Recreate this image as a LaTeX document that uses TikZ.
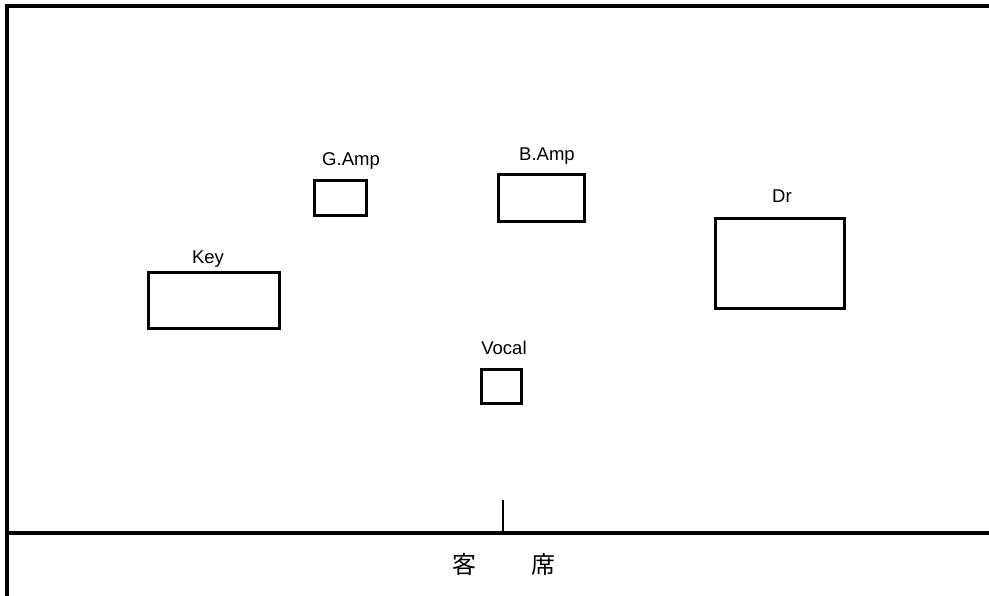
\documentclass[tikz,border=0pt]{standalone}
\usepackage{fontspec}
\setmainfont{Liberation Sans}
\newfontfamily\cjk{Noto Sans CJK JP}
\begin{document}
\begin{tikzpicture}[x=1pt,y=-1pt,
  box/.style={draw=black,line width=2.9pt,rectangle,inner sep=0pt,fill=none},
  lbl/.style={anchor=base,inner sep=0pt,font=\fontsize{18.5}{20}\selectfont},
  frame/.style={line width=3.3pt,line cap=rect},
  seat/.style={inner sep=0pt,font=\cjk\fontsize{24}{26}\selectfont}]
\useasboundingbox (0,0) rectangle (989,596);
% frame
\coordinate (tl) at (7,6);
\coordinate (tr) at (995,6);
\coordinate (bl) at (7,600);
\coordinate (ml) at (7,533);
\coordinate (mr) at (995,533);
\coordinate (ct) at (503,500);
\coordinate (cb) at (503,533);
\draw[frame] (bl) -- (tl) -- (tr);
\draw[frame] (ml) -- (mr);
\draw[line width=2.7pt] (ct) -- (cb);
% boxes
\node[box,minimum width=52.4,minimum height=35.4] (gamp) at (340.5,198) {};
\node[box,minimum width=86.4,minimum height=47.4] (bamp) at (541.5,198) {};
\node[box,minimum width=129.4,minimum height=90.4] (dr) at (780,263.5) {};
\node[box,minimum width=131.4,minimum height=56.4] (key) at (214,300.5) {};
\node[box,minimum width=40.4,minimum height=34.4] (vocal) at (501.5,386.5) {};
% labels
\node[lbl] (gampl) at (351,166) {G.Amp};
\node[lbl] (bampl) at (547,161) {B.Amp};
\node[lbl] (drl) at (782,203) {Dr};
\node[lbl] (keyl) at (208,264) {Key};
\node[lbl] (vocall) at (504,355) {Vocal};
% audience
\node[seat] (kyaku) at (464,564.5) {客};
\node[seat] (seki) at (543,564.5) {席};
\end{tikzpicture}
\end{document}
